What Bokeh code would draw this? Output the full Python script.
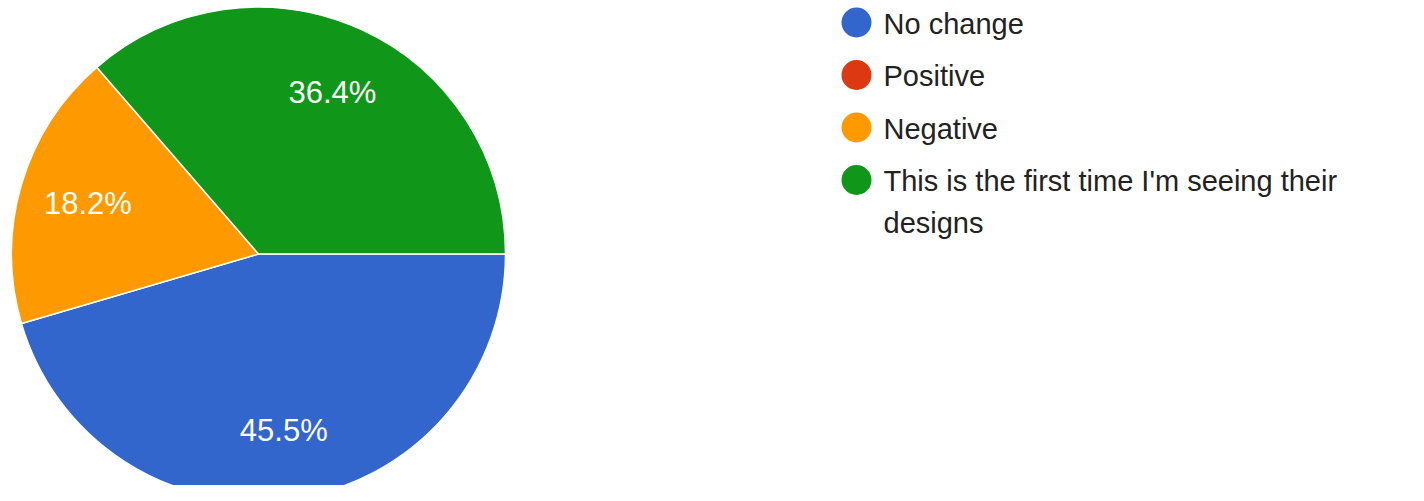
import textwrap
import numpy as np
from bokeh.plotting import figure
from bokeh.models import Range1d, ColumnDataSource
from bokeh.core.properties import value
from bokeh.embed import file_html
from bokeh.resources import INLINE

# ---- data ----
categories = ["No change", "Positive", "Negative",
              "This is the first time I'm seeing their designs"]
counts = [5, 0, 2, 4]
colors = ["#3366cc", "#dc3912", "#ff9900", "#109618"]

# ---- layout constants (picture pixels, origin top-left of figure) ----
W, H = 1408, 485
cx, cy_pic, R = 258, 253.5, 247
cy = H - cy_pic
LABEL_FRAC = 0.72
FONT = "Liberation Sans"

p = figure(width=W, height=H, x_range=Range1d(0, W), y_range=Range1d(0, H),
           output_backend="svg", toolbar_location=None, min_border=0,
           x_axis_location=None, y_axis_location=None)
p.grid.visible = False
p.outline_line_color = None
p.background_fill_color = "white"

total = float(sum(counts))
cum = np.concatenate([[0.0], np.cumsum(counts)]) / total * 2 * np.pi  # clockwise from east

ws = dict(start=[], end=[], color=[])
ls = dict(x=[], y=[], text=[])
for i, c in enumerate(counts):
    if c == 0:
        continue
    a0, a1 = cum[i], cum[i + 1]
    ws["start"].append(-a1)
    ws["end"].append(-a0)
    ws["color"].append(colors[i])
    m = (a0 + a1) / 2
    ls["x"].append(cx + LABEL_FRAC * R * np.cos(m))
    ls["y"].append(cy - LABEL_FRAC * R * np.sin(m))
    ls["text"].append(f"{100 * c / total:.1f}%")

p.wedge(x=cx, y=cy, radius=R, start_angle="start", end_angle="end", direction="anticlock",
        fill_color="color", line_color="white", line_width=1.5, source=ColumnDataSource(ws))
p.text(x="x", y="y", text="text", source=ColumnDataSource(ls), text_color="white",
       text_font=value(FONT), text_font_size="31px", text_align="center", text_baseline="middle")

# ---- legend ----
LX, TX, LY0, LDY, LINE_H = 856, 883, 22, 52.5, 41.5
lg = dict(x=[], y=[], color=[])
lt = dict(x=[], y=[], text=[])
for i, cat in enumerate(categories):
    yp = LY0 + LDY * i
    lg["x"].append(LX)
    lg["y"].append(H - yp)
    lg["color"].append(colors[i])
    for j, line in enumerate(textwrap.wrap(cat, 39)):
        lt["x"].append(TX)
        lt["y"].append(H - (yp + 1 + LINE_H * j))
        lt["text"].append(line)

p.scatter(x="x", y="y", size=30, fill_color="color", line_color=None, source=ColumnDataSource(lg))
p.text(x="x", y="y", text="text", source=ColumnDataSource(lt), text_color="#222222",
       text_font=value(FONT), text_font_size="29px", text_align="left", text_baseline="middle")

open("out.html", "w").write(file_html(p, INLINE))
